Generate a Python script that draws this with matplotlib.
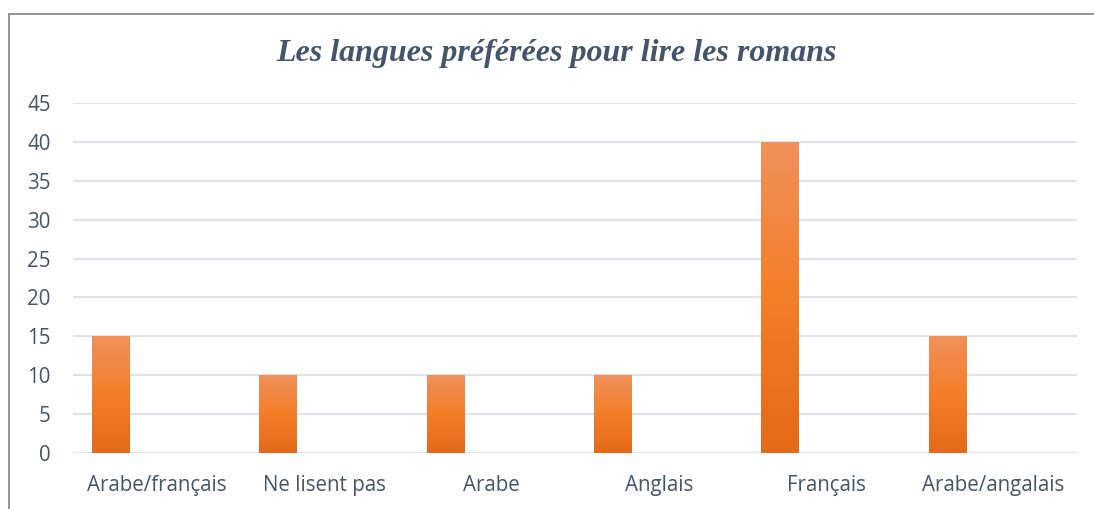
import matplotlib
matplotlib.use("Agg")
import matplotlib.pyplot as plt
import numpy as np
from matplotlib.lines import Line2D
from matplotlib.colors import LinearSegmentedColormap

categories = ["Arabe/français", "Ne lisent pas", "Arabe", "Anglais", "Français", "Arabe/angalais"]
values = [15, 10, 10, 10, 40, 15]
yticks = [0, 5, 10, 15, 20, 25, 30, 35, 40, 45]
title = "Les langues préférées pour lire les romans"

W, H = 1094, 509
fig = plt.figure(figsize=(W / 100, H / 100), dpi=100)
fig.patch.set_facecolor("white")

x0, x1 = 73, 1077
y0, y1 = 453, 103
ax = fig.add_axes([x0 / W, 1 - y0 / H, (x1 - x0) / W, (y0 - y1) / H])
ax.set_facecolor("none")

x = np.arange(len(categories))
offset = -0.273
bw = 0.227
bars = ax.bar(x + offset, values, width=bw, color="#F37F2A", zorder=2)

cmap = LinearSegmentedColormap.from_list("og", ["#E4691A", "#F37E28", "#F0915B"])
grad = np.linspace(0, 1, 256).reshape(-1, 1)
for b in bars:
    bx, by = b.get_x(), b.get_y()
    bwid, bh = b.get_width(), b.get_height()
    im = ax.imshow(grad, cmap=cmap, origin="lower", aspect="auto",
                   extent=[bx, bx + bwid, by, by + bh], zorder=3)
    im.set_clip_path(b)

ax.set_xlim(-0.5, len(categories) - 0.5)
ax.set_ylim(0, 45)
ax.set_yticks(yticks)
ax.set_xticks(x)
ax.set_xticklabels(categories)
ax.yaxis.grid(True, color="#DFE2E7", linewidth=1.6, zorder=0)
ax.set_axisbelow(True)
for s in ax.spines.values():
    s.set_visible(False)
ax.tick_params(axis="both", length=0, labelsize=14.8, labelcolor="#44546A")
ax.tick_params(axis="x", pad=16)
ax.tick_params(axis="y", pad=16)
for lab in ax.get_xticklabels() + ax.get_yticklabels():
    lab.set_fontfamily("Open Sans")

fig.text(556.5 / W, 1 - 54 / H, title, ha="center", va="center",
         fontsize=23, fontstyle="italic", fontweight="bold",
         family="Liberation Serif", color="#44546A")

fig.add_artist(Line2D([9 / W, 9 / W], [0, 1 - 13.5 / H], color="#8C8C8C", linewidth=1.3,
                      transform=fig.transFigure))
fig.add_artist(Line2D([9 / W, 1], [1 - 13.5 / H, 1 - 13.5 / H], color="#8C8C8C", linewidth=1.3,
                      transform=fig.transFigure))

fig.savefig("out.png", dpi=100)
